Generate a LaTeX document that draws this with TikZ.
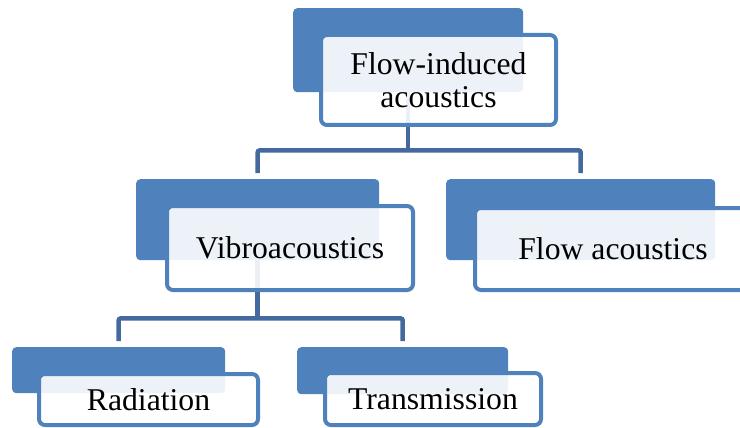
\documentclass[tikz,border=0pt]{standalone}
\usepackage{fontspec}
\setmainfont{Liberation Serif}
\newfontfamily\boxfont{Liberation Serif}
\definecolor{accent}{HTML}{4F81BD}
\definecolor{connc}{HTML}{44699F}
\tikzset{
  backbox/.style={rectangle, rounded corners=4pt, fill=accent, draw=none, inner sep=0pt, anchor=north west},
  frontbox/.style={rectangle, rounded corners=6pt, draw=accent, line width=4pt, fill=white, fill opacity=0.9, text opacity=1, inner sep=0pt, anchor=north west, align=center, font=\boxfont\fontsize{31.7}{33}\selectfont},
  conn/.style={draw=connc, line width=4.5pt, rounded corners=2pt}
}
\begin{document}
\begin{tikzpicture}[x=1pt, y=-1pt]
\useasboundingbox (0,0) rectangle (740,428);
% back boxes
\node[backbox, minimum width=230pt, minimum height=84pt] (tb) at (293,8) {};
\node[backbox, minimum width=243pt, minimum height=81pt] (vb) at (136,179) {};
\node[backbox, minimum width=269pt, minimum height=81pt] (fb) at (446,179) {};
\node[backbox, minimum width=213pt, minimum height=46pt] (rb) at (12,347) {};
\node[backbox, minimum width=211pt, minimum height=47pt] (sb) at (297,347) {};
% connectors
\draw[conn] (tb.south) -- ++(0,58) coordinate (j1);
\draw[conn] ([yshift=6pt]vb.north) |- (j1) -| ([yshift=6pt]fb.north);
\draw[conn] (vb.south) -- ++(0,58) coordinate (j2);
\draw[conn] ([yshift=6pt]rb.north) |- (j2) -| ([yshift=6pt]sb.north);
% front boxes
\node[frontbox, minimum width=235pt, minimum height=90pt] (tf) at (319,33) {Flow-induced\\acoustics};
\node[frontbox, minimum width=246pt, minimum height=84pt] (vf) at (165,204) {Vibroacoustics};
\node[frontbox, minimum width=276pt, minimum height=82pt] (ff) at (473,206) {Flow acoustics};
\node[frontbox, minimum width=219pt, minimum height=51pt] (rf) at (37,372) {Radiation};
\node[frontbox, minimum width=216pt, minimum height=52pt] (sf) at (323,371) {Transmission};
\end{tikzpicture}
\end{document}
